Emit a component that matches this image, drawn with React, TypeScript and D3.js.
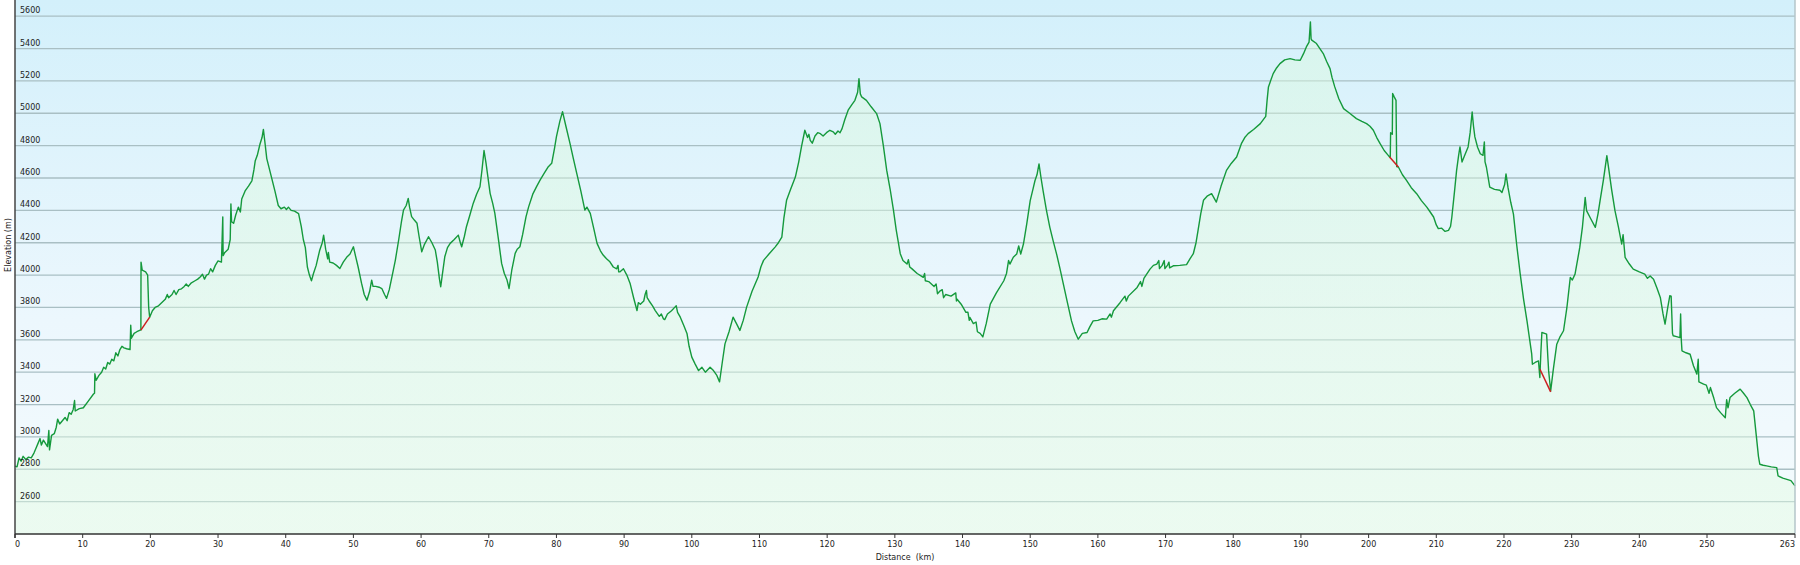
import React from 'react';
import * as d3 from 'd3';

const xTicks = [0, 10, 20, 30, 40, 50, 60, 70, 80, 90, 100, 110, 120, 130, 140, 150, 160, 170, 180, 190, 200, 210, 220, 230, 240, 250, 263];
const yTicks = [2600, 2800, 3000, 3200, 3400, 3600, 3800, 4000, 4200, 4400, 4600, 4800, 5000, 5200, 5400, 5600];

// [distance km, elevation m]
const profile: [number, number][] = [
  [0,2820],[0.3,2815],[0.6,2870],[0.9,2850],[1.2,2880],[1.6,2860],[2.0,2875],[2.4,2870],[2.8,2900],[3.1,2930],[3.4,2960],[3.7,2990],[3.9,2950],[4.2,2980],[4.5,2960],[4.8,2940],[5.0,3040],[5.1,2920],[5.4,3010],[5.8,3020],[6.1,3060],[6.3,3110],[6.6,3080],[7.0,3100],[7.4,3120],[7.7,3100],[8.0,3150],[8.3,3140],[8.6,3170],[8.8,3225],[8.9,3160],[9.5,3175],[10.1,3180],[10.8,3220],[11.6,3265],[11.75,3270],[11.8,3390],[12.0,3350],[12.4,3380],[12.8,3400],[13.1,3430],[13.4,3420],[13.7,3460],[14.0,3450],[14.3,3480],[14.6,3470],[14.9,3520],[15.2,3500],[15.5,3540],[15.8,3560],[16.1,3550],[16.5,3545],[17.0,3540],[17.1,3690],[17.2,3610],[17.6,3640],[18.0,3650],[18.5,3660],[18.6,3660],[18.62,4080],[18.8,4030],[19.3,4020],[19.6,4000],[19.75,3800],[19.9,3740],[20.3,3780],[20.7,3800],[21.2,3810],[21.7,3830],[22.2,3850],[22.5,3880],[22.7,3860],[23.2,3880],[23.5,3905],[23.8,3880],[24.2,3910],[24.6,3915],[25.0,3930],[25.3,3945],[25.6,3930],[26.0,3950],[26.6,3965],[27.0,3975],[27.4,3990],[27.7,4005],[28.0,3975],[28.3,4000],[28.6,4006],[28.9,4040],[29.2,4020],[29.6,4060],[30.0,4088],[30.5,4080],[30.7,4360],[30.75,4120],[31.0,4140],[31.5,4160],[31.8,4220],[31.9,4440],[32.0,4330],[32.3,4320],[32.6,4370],[33.0,4420],[33.3,4390],[33.5,4470],[34.0,4520],[34.5,4550],[35.0,4583],[35.3,4650],[35.5,4707],[35.8,4740],[36.2,4810],[36.5,4850],[36.7,4900],[36.9,4830],[37.2,4720],[37.5,4670],[37.9,4604],[38.4,4520],[38.9,4430],[39.3,4410],[39.8,4420],[40.1,4405],[40.4,4420],[40.8,4400],[41.3,4395],[41.9,4380],[42.3,4300],[42.6,4220],[42.9,4170],[43.2,4050],[43.5,4000],[43.8,3965],[44.1,4010],[44.5,4060],[45.0,4150],[45.4,4200],[45.6,4247],[45.9,4160],[46.2,4100],[46.3,4140],[46.5,4080],[47.0,4075],[47.5,4060],[48.0,4041],[48.5,4080],[49.0,4110],[49.5,4130],[50.0,4175],[50.3,4120],[50.7,4050],[51.2,3950],[51.6,3880],[52.0,3845],[52.4,3900],[52.7,3969],[52.9,3930],[53.3,3930],[53.8,3925],[54.2,3917],[54.6,3880],[54.9,3856],[55.3,3910],[55.8,4010],[56.2,4093],[56.7,4220],[57.1,4330],[57.4,4402],[57.8,4430],[58.1,4474],[58.3,4420],[58.6,4361],[59.0,4340],[59.4,4320],[59.7,4240],[60.1,4144],[60.5,4190],[61.1,4237],[61.6,4200],[62.1,4155],[62.4,4080],[62.7,3980],[62.9,3928],[63.1,3990],[63.5,4113],[63.9,4170],[64.3,4196],[64.9,4220],[65.5,4247],[65.8,4200],[66.0,4175],[66.4,4240],[66.7,4299],[67.2,4370],[67.7,4443],[68.2,4500],[68.7,4546],[69.0,4650],[69.3,4770],[69.6,4690],[70.2,4505],[70.6,4440],[70.9,4381],[71.4,4230],[71.9,4072],[72.3,4010],[72.7,3969],[73.0,3917],[73.4,4030],[73.9,4134],[74.2,4160],[74.6,4175],[75.0,4250],[75.5,4360],[75.9,4423],[76.5,4500],[77.1,4550],[77.6,4588],[78.2,4630],[78.8,4670],[79.3,4691],[79.7,4780],[80.0,4856],[80.5,4950],[80.9,5010],[81.4,4920],[82.0,4814],[82.5,4720],[83.0,4629],[83.6,4520],[84.2,4402],[84.5,4420],[85.0,4381],[85.5,4290],[86.0,4196],[86.5,4150],[86.9,4124],[87.4,4101],[87.9,4082],[88.4,4050],[88.9,4039],[89.1,4060],[89.2,4020],[89.4,4020],[89.9,4039],[90.4,4000],[90.9,3946],[91.4,3860],[91.9,3781],[92.1,3830],[92.4,3820],[92.9,3840],[93.1,3880],[93.3,3905],[93.4,3860],[93.7,3840],[94.2,3810],[94.6,3781],[95.2,3745],[95.5,3760],[95.8,3730],[96.0,3725],[96.4,3760],[97.0,3780],[97.5,3802],[97.7,3810],[97.9,3770],[98.3,3740],[98.8,3690],[99.3,3637],[99.6,3560],[100.0,3493],[100.5,3450],[101.0,3410],[101.5,3430],[102.0,3400],[102.7,3431],[103.2,3410],[103.7,3380],[104.1,3340],[104.5,3460],[104.9,3575],[105.5,3650],[106.1,3740],[106.6,3700],[107.1,3658],[107.6,3720],[108.1,3802],[108.9,3900],[109.8,3988],[110.2,4050],[110.6,4091],[111.4,4130],[112.3,4173],[112.8,4200],[113.3,4235],[113.6,4350],[114.0,4462],[114.6,4530],[115.3,4606],[115.8,4700],[116.2,4792],[116.7,4895],[117.1,4850],[117.3,4870],[117.5,4833],[117.8,4815],[118.2,4860],[118.6,4880],[119.0,4874],[119.4,4860],[119.9,4880],[120.4,4895],[120.9,4885],[121.2,4870],[121.6,4890],[121.9,4880],[122.2,4905],[122.6,4960],[123.1,5019],[123.6,5050],[124.1,5080],[124.5,5130],[124.7,5214],[124.9,5120],[125.1,5101],[125.8,5080],[126.5,5040],[127.3,4998],[127.8,4936],[128.3,4800],[128.8,4647],[129.3,4532],[129.8,4400],[130.2,4280],[130.8,4132],[131.2,4090],[131.8,4068],[132.0,4095],[132.2,4050],[132.5,4040],[133.3,4010],[134.2,3986],[134.4,4010],[134.5,3965],[135.0,3960],[135.8,3930],[136.1,3945],[136.3,3885],[136.7,3903],[137.0,3910],[137.2,3860],[137.5,3880],[138.3,3870],[139.0,3890],[139.1,3840],[139.2,3851],[139.8,3820],[140.5,3770],[140.8,3770],[141.0,3720],[141.1,3738],[141.6,3700],[142.0,3710],[142.2,3650],[142.6,3640],[143.0,3618],[143.5,3700],[144.1,3821],[145.0,3890],[146.1,3965],[146.5,4010],[146.8,4090],[147.0,4068],[147.5,4110],[148.0,4130],[148.3,4180],[148.6,4130],[149.0,4192],[149.5,4320],[150.0,4460],[150.4,4530],[150.7,4583],[151.0,4620],[151.3,4687],[151.6,4600],[151.9,4522],[152.4,4400],[152.9,4295],[153.4,4210],[153.9,4130],[154.4,4040],[154.9,3944],[155.5,3830],[156.1,3717],[156.6,3650],[157.1,3604],[157.7,3640],[158.4,3645],[158.8,3680],[159.3,3717],[160.0,3720],[160.6,3730],[161.3,3728],[161.8,3760],[162.0,3740],[162.3,3780],[163.3,3831],[164.0,3870],[164.2,3840],[164.5,3870],[165.8,3924],[166.3,3960],[166.5,3930],[166.8,3980],[167.7,4037],[168.2,4060],[168.7,4068],[169.0,4090],[169.1,4040],[169.5,4060],[169.8,4090],[169.9,4040],[170.3,4062],[170.5,4080],[170.6,4045],[171.2,4058],[172.1,4060],[173.1,4065],[173.6,4100],[174.1,4132],[174.5,4200],[174.8,4276],[175.2,4380],[175.6,4462],[176.2,4490],[176.8,4503],[177.5,4451],[178.2,4550],[179.0,4647],[179.7,4690],[180.5,4730],[181.2,4812],[181.7,4850],[182.2,4874],[183.0,4900],[184.0,4936],[184.8,4981],[185.0,5080],[185.2,5163],[185.9,5245],[186.4,5280],[186.9,5307],[187.6,5330],[188.4,5338],[189.1,5330],[189.9,5328],[190.4,5370],[190.8,5410],[191.2,5440],[191.4,5565],[191.5,5460],[191.6,5452],[192.3,5431],[192.8,5400],[193.3,5369],[193.8,5320],[194.3,5276],[194.6,5220],[195.0,5163],[195.6,5090],[196.3,5029],[197.2,5000],[198.2,4967],[199.0,4950],[199.7,4936],[200.2,4920],[200.7,4895],[201.2,4850],[201.7,4812],[202.3,4770],[202.9,4740],[203.1,4730],[203.2,4730],[203.25,4880],[203.5,4870],[203.55,5122],[203.8,5100],[204.05,5080],[204.15,4670],[204.4,4668],[205.0,4620],[205.6,4585],[206.3,4540],[207.1,4503],[207.8,4460],[208.6,4420],[209.1,4390],[209.6,4359],[210.0,4310],[210.3,4287],[210.8,4290],[211.3,4270],[211.8,4276],[212.1,4300],[212.3,4359],[212.7,4520],[213.0,4647],[213.3,4740],[213.5,4792],[213.8,4699],[214.2,4740],[214.7,4792],[215.0,4880],[215.3,5008],[215.5,4920],[215.7,4854],[216.1,4790],[216.5,4750],[216.9,4740],[217.1,4823],[217.2,4700],[217.4,4668],[217.9,4544],[218.6,4530],[219.4,4524],[219.7,4511],[220.1,4560],[220.3,4625],[220.6,4540],[221.0,4450],[221.4,4377],[221.9,4180],[222.4,4006],[222.9,3850],[223.4,3717],[223.8,3600],[224.1,3511],[224.2,3449],[224.6,3460],[225.1,3470],[225.3,3367],[225.45,3520],[225.6,3645],[226.0,3640],[226.3,3635],[226.5,3480],[226.6,3408],[226.9,3284],[227.3,3420],[227.8,3573],[228.3,3620],[228.8,3656],[229.3,3800],[229.8,3986],[230.1,3970],[230.5,4006],[230.9,4100],[231.2,4171],[231.6,4300],[232.0,4480],[232.2,4398],[232.8,4350],[233.5,4295],[233.9,4380],[234.2,4460],[234.7,4590],[235.2,4738],[235.5,4650],[235.9,4530],[236.4,4398],[236.9,4300],[237.4,4192],[237.6,4250],[237.9,4109],[238.5,4070],[239.1,4037],[240.0,4020],[240.8,4006],[241.2,3980],[241.6,3995],[242.1,3975],[242.6,3920],[243.1,3862],[243.5,3760],[243.8,3697],[244.2,3800],[244.5,3872],[244.7,3870],[244.9,3640],[245.0,3625],[245.5,3620],[246.0,3614],[246.1,3760],[246.2,3600],[246.3,3532],[246.9,3520],[247.5,3511],[248.0,3440],[248.5,3388],[248.7,3480],[248.8,3340],[249.5,3326],[249.9,3320],[250.3,3270],[250.5,3305],[251.0,3240],[251.4,3181],[252.0,3150],[252.7,3119],[252.9,3230],[253.1,3180],[253.4,3243],[254.1,3270],[254.9,3295],[255.4,3270],[255.9,3243],[256.4,3200],[256.9,3161],[257.3,3000],[257.6,2880],[257.8,2831],[258.3,2825],[258.8,2821],[259.5,2815],[260.3,2810],[260.5,2759],[261.2,2745],[261.8,2738],[262.4,2730],[263.0,2697]
];

// straight red connectors drawn over gaps in the record
const gapSegments: [number, number][][] = [
  [[18.6, 3660], [19.9, 3740]],
  [[203.1, 4730], [204.4, 4668]],
  [[225.3, 3420], [226.9, 3278]],
];

const W = 1800;
const H = 565;
const PL = 15;
const PR = 1795;
const PT = 0;
const PB = 534;

export default function App() {
  const x = d3.scaleLinear().domain([0, 263]).range([PL, PR]);
  const y = d3.scaleLinear().domain([2400, 5700]).range([PB, PT]);
  const line = d3.line<[number, number]>().x(d => x(d[0])).y(d => y(d[1]));
  const area = d3.area<[number, number]>().x(d => x(d[0])).y0(PB).y1(d => y(d[1]));
  const font = "Verdana, 'DejaVu Sans', sans-serif";

  return (
    <svg width={W} height={H} style={{ position: 'absolute', left: 0, top: 0, background: '#fff' }} fontFamily={font}>
      <defs>
        <linearGradient id="bg" x1="0" y1="0" x2="0" y2="1">
          <stop offset="0" stopColor="#d3f0fb" />
          <stop offset="0.6" stopColor="#ecf7fd" />
          <stop offset="1" stopColor="#f4fbfd" />
        </linearGradient>
        <linearGradient id="fill" x1="0" y1="0" x2="0" y2="1">
          <stop offset="0" stopColor="rgb(220,250,222)" stopOpacity={0.45} />
          <stop offset="1" stopColor="rgb(225,250,225)" stopOpacity={0.45} />
        </linearGradient>
      </defs>
      <rect x={PL} y={PT} width={PR - PL} height={PB - PT} fill="url(#bg)" />
      {yTicks.map(t => (
        <line key={t} x1={PL} x2={PR} y1={y(t)} y2={y(t)} stroke="#a9bfc4" strokeWidth={1.3} />
      ))}
      <path d={area(profile) || ''} fill="url(#fill)" />
      <path d={line(profile) || ''} fill="none" stroke="#15993c" strokeWidth={1.4} strokeLinejoin="round" />
      {gapSegments.map((s, i) => (
        <path key={i} d={line(s) || ''} fill="none" stroke="#cc1f1f" strokeWidth={1.5} />
      ))}
      {yTicks.map(t => (
        <text key={t} x={PL + 5} y={y(t) - 3} fontSize={8} fill="#222">{t}</text>
      ))}
      <line x1={PR} x2={PR} y1={PT} y2={PB} stroke="#b5c6ca" strokeWidth={1.5} />
      <line x1={PL} x2={PL} y1={PT} y2={PB + 4} stroke="#444" strokeWidth={1.5} />
      <line x1={PL} x2={PR} y1={PB} y2={PB} stroke="#333" strokeWidth={1.5} />
      {xTicks.map((t, i) => (
        <g key={t}>
          <line x1={x(t)} x2={x(t)} y1={PB} y2={PB + 4} stroke="#333" strokeWidth={1} />
          <text x={x(t)} y={547} fontSize={8} fill="#222"
            textAnchor={i === 0 ? 'start' : i === xTicks.length - 1 ? 'end' : 'middle'}>{t}</text>
        </g>
      ))}
      <text x={(PL + PR) / 2} y={560} fontSize={8} fill="#222" textAnchor="middle" style={{ whiteSpace: 'pre' }}>{'Distance  (km)'}</text>
      <text transform="translate(11,245) rotate(-90)" fontSize={8} fill="#222" textAnchor="middle">Elevation (m)</text>
    </svg>
  );
}
